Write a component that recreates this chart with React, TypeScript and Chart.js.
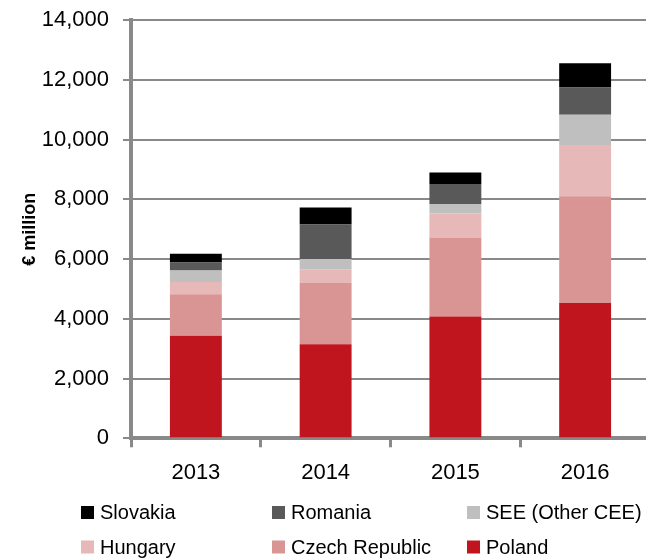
import React, { useEffect, useRef } from "react";
import { Chart, registerables } from "chart.js";

Chart.register(...registerables);

const years = ["2013", "2014", "2015", "2016"];
const poland = [3430, 3150, 4075, 4525];
const czechRepublic = [1395, 2050, 2645, 3580];
const hungary = [410, 460, 805, 1715];
const seeOtherCee = [380, 345, 315, 1005];
const romania = [270, 1150, 670, 915];
const slovakia = [290, 570, 390, 815];
const yTicks = [0, 2000, 4000, 6000, 8000, 10000, 12000, 14000];

const FONT = "'Liberation Sans', Arial, sans-serif";
const AXIS_GRAY = "#898989";

const legendOrder = ["Slovakia", "Romania", "SEE (Other CEE)", "Hungary", "Czech Republic", "Poland"];

const gridLegend = {
  id: "gridLegend",
  afterDraw(chart: any) {
    const ctx = chart.ctx;
    const colX = [81, 272, 467];
    const rowY = [512.5, 547];
    ctx.save();
    ctx.font = `20px ${FONT}`;
    ctx.textBaseline = "middle";
    ctx.textAlign = "left";
    legendOrder.forEach((name, i) => {
      const x = colX[i % 3];
      const y = rowY[Math.floor(i / 3)];
      const ds = chart.data.datasets.find((d: any) => d.label === name);
      ctx.fillStyle = ds.backgroundColor;
      ctx.fillRect(x, y - 6.5, 13, 13);
      ctx.fillStyle = "#000";
      ctx.fillText(name, x + 19, y + 1);
    });
    ctx.restore();
  },
};

export default function App() {
  const ref = useRef<HTMLCanvasElement>(null);

  useEffect(() => {
    if (!ref.current) return;
    const chart = new Chart(ref.current, {
      type: "bar",
      data: {
        labels: years,
        datasets: [
          { label: "Poland", data: poland, backgroundColor: "#C0141E" },
          { label: "Czech Republic", data: czechRepublic, backgroundColor: "#D99594" },
          { label: "Hungary", data: hungary, backgroundColor: "#E6B8B7" },
          { label: "SEE (Other CEE)", data: seeOtherCee, backgroundColor: "#BFBFBF" },
          { label: "Romania", data: romania, backgroundColor: "#595959" },
          { label: "Slovakia", data: slovakia, backgroundColor: "#000000" },
        ],
      },
      options: {
        responsive: false,
        animation: false,
        layout: { padding: { top: 20, right: 0, bottom: 0, left: 0 } },
        datasets: { bar: { barPercentage: 0.4, categoryPercentage: 1.0 } },
        plugins: {
          legend: { display: false },
          tooltip: { enabled: false },
        },
        scales: {
          x: {
            stacked: true,
            offset: true,
            afterFit(scale: any) {
              scale.height = 558 - 438.3;
              scale.paddingLeft = 0;
              scale.paddingRight = 0;
            },
            border: { display: true, color: AXIS_GRAY, width: 4 },
            grid: {
              display: true,
              offset: true,
              drawOnChartArea: false,
              drawTicks: true,
              tickLength: 9,
              color: AXIS_GRAY,
              lineWidth: 3,
            },
            ticks: {
              color: "#000",
              font: { family: FONT, size: 22 },
              padding: 12,
            },
          },
          y: {
            stacked: true,
            min: 0,
            max: 14000,
            afterFit(scale: any) {
              scale.width = 131;
              scale.paddingTop = 0;
              scale.paddingBottom = 0;
            },
            afterBuildTicks(scale: any) {
              scale.ticks = yTicks.map((v) => ({ value: v }));
            },
            border: { display: true, color: AXIS_GRAY, width: 4 },
            grid: {
              color: AXIS_GRAY,
              lineWidth: 2,
              drawTicks: true,
              tickLength: 8,
            },
            ticks: {
              color: "#000",
              font: { family: FONT, size: 22 },
              padding: 14,
              callback: (v: any) => Number(v).toLocaleString("en-US"),
            },
            title: {
              display: true,
              text: "€ million",
              color: "#000",
              font: { family: FONT, size: 18, weight: "bold" },
              padding: { top: 19, bottom: 0 },
            },
          },
        },
      },
      plugins: [gridLegend],
    });
    return () => chart.destroy();
  }, []);

  return (
    <div style={{ position: "fixed", left: 0, top: 0, width: 646, height: 558, overflow: "hidden", background: "#fff" }}>
      <canvas ref={ref} width={650} height={558} style={{ display: "block" }} />
    </div>
  );
}
